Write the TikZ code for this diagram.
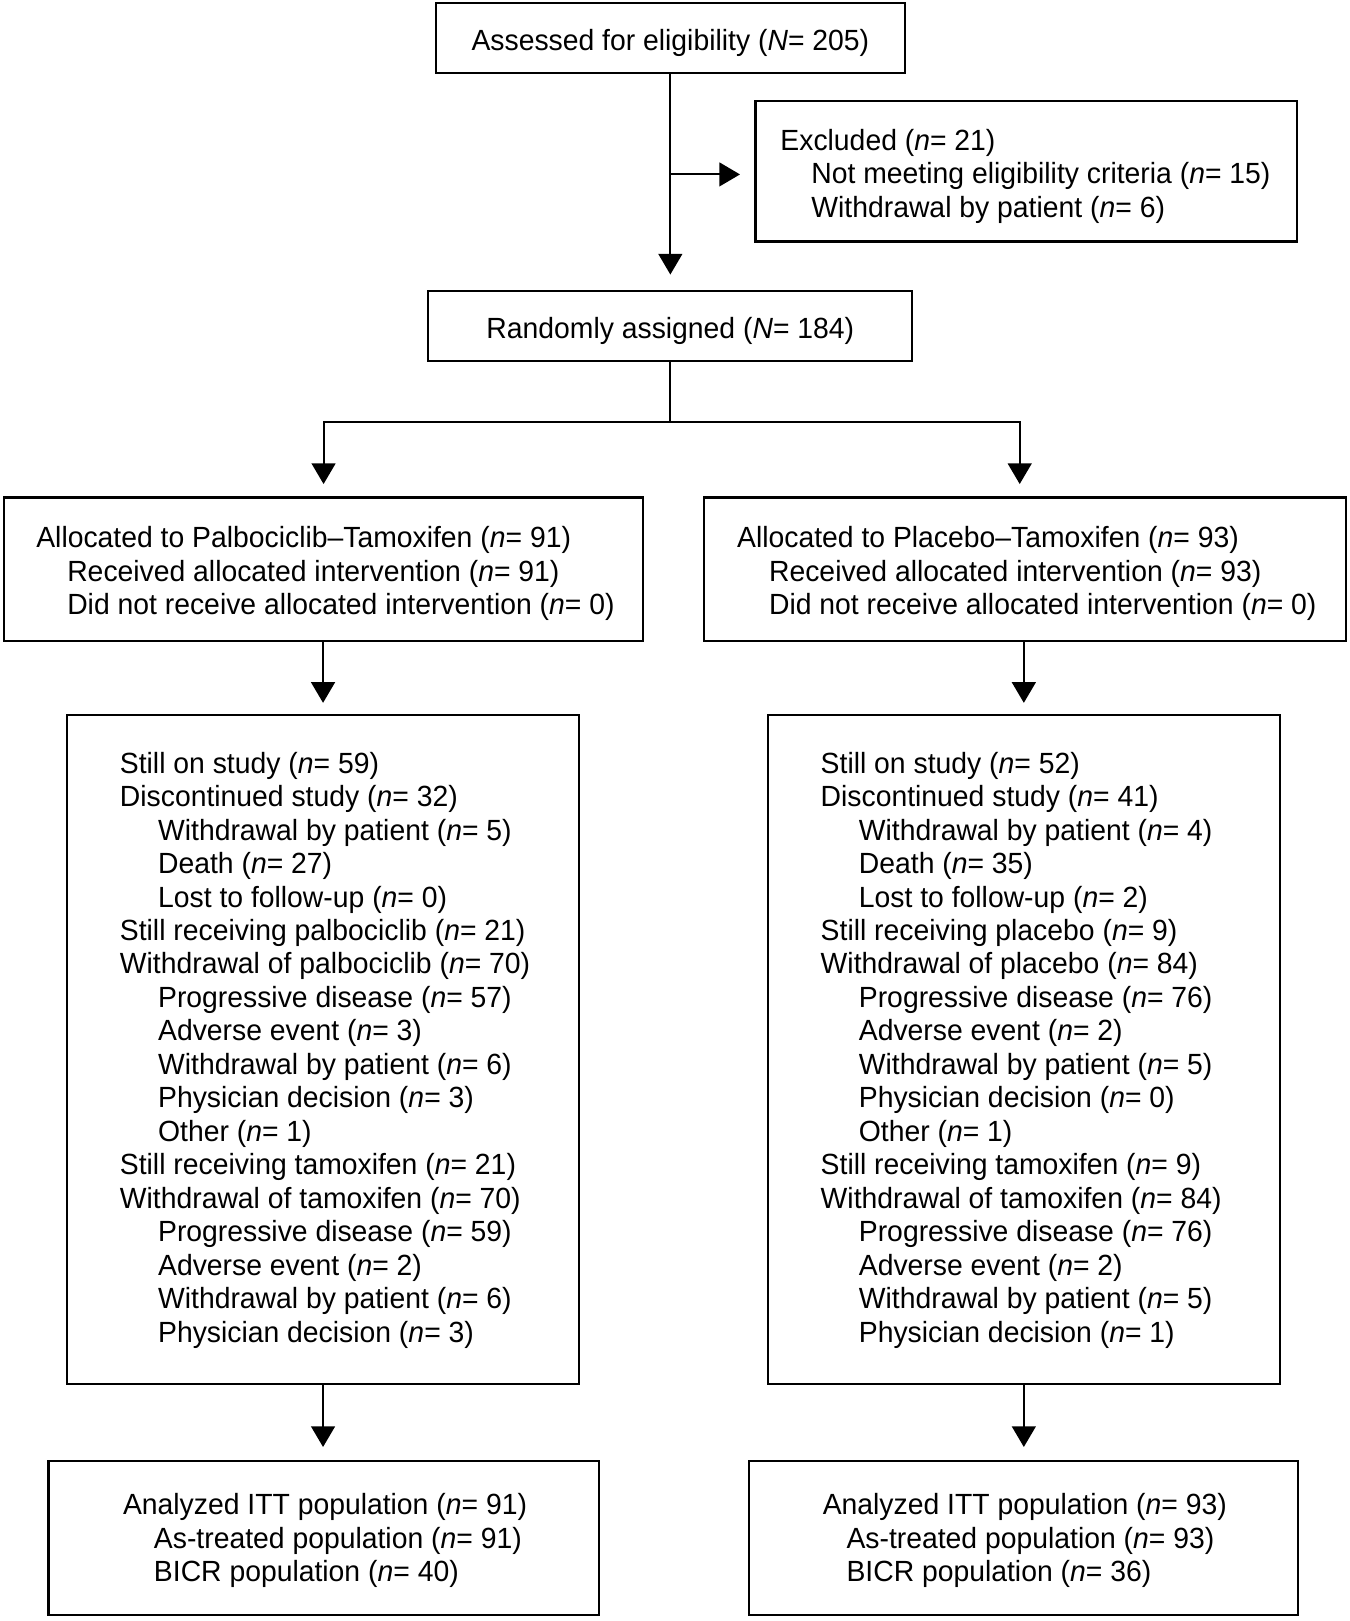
\documentclass[tikz,border=0pt]{standalone}
\usepackage{fontspec}
\setmainfont{Liberation Sans}[FakeStretch=0.97]
\usetikzlibrary{arrows.meta}
\newcommand{\nn}[1]{(\textit{n}= #1)}
\begin{document}
\begin{tikzpicture}[x=1pt,y=-1pt,
  box/.style={draw,line width=2pt,inner sep=0pt},
  txt/.style={anchor=base west,inner sep=0pt,font=\fontsize{28.3}{32.5}\selectfont},
  ctxt/.style={anchor=base,inner sep=0pt,font=\fontsize{28.3}{32.5}\selectfont},
  conn/.style={line width=2pt},
  arr/.style={line width=2pt,-{Triangle[length=20pt,width=23pt]}}]
\useasboundingbox (0,0) rectangle (1308,1570.6);
% boxes
\node[box,minimum width=455pt,minimum height=68pt] (top) at (649.5,37) {};
\node[box,minimum width=525pt,minimum height=136pt] (excl) at (994.5,166) {};
\node[box,minimum width=469pt,minimum height=68pt] (rand) at (649.5,316) {};
\node[box,minimum width=619pt,minimum height=139pt] (allocL) at (313.5,551.5) {};
\node[box,minimum width=622pt,minimum height=139pt] (allocR) at (993,551.5) {};
\node[box,minimum width=496pt,minimum height=648pt] (bigL) at (313,1017) {};
\node[box,minimum width=496pt,minimum height=648pt] (bigR) at (992,1017) {};
\node[box,minimum width=533pt,minimum height=149pt] (botL) at (313.5,1490.5) {};
\node[box,minimum width=532pt,minimum height=149pt] (botR) at (992,1490.5) {};
% texts
\node[ctxt] (ttop) at (649.5,49) {Assessed for eligibility (\textit{N}= 205)};
\node[ctxt] (trand) at (649.5,328) {Randomly assigned (\textit{N}= 184)};
\node[txt] (te1) at (756,146) {Excluded \nn{21}};
\node[txt] (te2) at (786,178) {Not meeting eligibility criteria \nn{15}};
\node[txt] (te3) at (786,211) {Withdrawal by patient \nn{6}};
\node[txt] (tal1) at (35,530) {Allocated to Palbociclib–Tamoxifen \nn{91}};
\node[txt] (tal2) at (65,563) {Received allocated intervention \nn{91}};
\node[txt] (tal3) at (65,595) {Did not receive allocated intervention \nn{0}};
\node[txt] (tar1) at (714,530) {Allocated to Placebo–Tamoxifen \nn{93}};
\node[txt] (tar2) at (745,563) {Received allocated intervention \nn{93}};
\node[txt] (tar3) at (745,595) {Did not receive allocated intervention \nn{0}};
\foreach \ind/\t [count=\i from 0] in {
  0/Still on study \nn{59},
  0/Discontinued study \nn{32},
  1/Withdrawal by patient \nn{5},
  1/Death \nn{27},
  1/Lost to follow-up \nn{0},
  0/Still receiving palbociclib \nn{21},
  0/Withdrawal of palbociclib \nn{70},
  1/Progressive disease \nn{57},
  1/Adverse event \nn{3},
  1/Withdrawal by patient \nn{6},
  1/Physician decision \nn{3},
  1/Other \nn{1},
  0/Still receiving tamoxifen \nn{21},
  0/Withdrawal of tamoxifen \nn{70},
  1/Progressive disease \nn{59},
  1/Adverse event \nn{2},
  1/Withdrawal by patient \nn{6},
  1/Physician decision \nn{3}}
  \node[txt] (tbl\i) at (116+37*\ind,749+32.45*\i) {\t};
\foreach \ind/\t [count=\i from 0] in {
  0/Still on study \nn{52},
  0/Discontinued study \nn{41},
  1/Withdrawal by patient \nn{4},
  1/Death \nn{35},
  1/Lost to follow-up \nn{2},
  0/Still receiving placebo \nn{9},
  0/Withdrawal of placebo \nn{84},
  1/Progressive disease \nn{76},
  1/Adverse event \nn{2},
  1/Withdrawal by patient \nn{5},
  1/Physician decision \nn{0},
  1/Other \nn{1},
  0/Still receiving tamoxifen \nn{9},
  0/Withdrawal of tamoxifen \nn{84},
  1/Progressive disease \nn{76},
  1/Adverse event \nn{2},
  1/Withdrawal by patient \nn{5},
  1/Physician decision \nn{1}}
  \node[txt] (tbr\i) at (795+37*\ind,749+32.45*\i) {\t};
\node[txt] (tbotl1) at (119,1467) {Analyzed ITT population \nn{91}};
\node[txt] (tbotl2) at (149,1500) {As-treated population \nn{91}};
\node[txt] (tbotl3) at (149,1532) {BICR population \nn{40}};
\node[txt] (tbotr1) at (797,1467) {Analyzed ITT population \nn{93}};
\node[txt] (tbotr2) at (820,1500) {As-treated population \nn{93}};
\node[txt] (tbotr3) at (820,1532) {BICR population \nn{36}};
% connectors
\coordinate (br1) at (649.5,169);
\coordinate (split) at (649.5,409);
\draw[arr,shorten >=15pt] (top.south) -- (rand.north);
\draw[arr,shorten >=14pt] (br1) -- (br1 -| excl.west);
\draw[conn] (rand.south) -- (split);
\draw[arr,shorten >=12pt] (split) -| (allocL.north);
\draw[arr,shorten >=12pt] (split) -| ([xshift=-5pt]allocR.north);
\draw[arr,shorten >=11pt] (allocL.south -| bigL.north) -- (bigL.north);
\draw[arr,shorten >=11pt] (allocR.south -| bigR.north) -- (bigR.north);
\draw[arr,shorten >=13pt] (bigL.south) -- (botL.north -| bigL.south);
\draw[arr,shorten >=13pt] (bigR.south) -- (botR.north -| bigR.south);
\end{tikzpicture}
\end{document}
